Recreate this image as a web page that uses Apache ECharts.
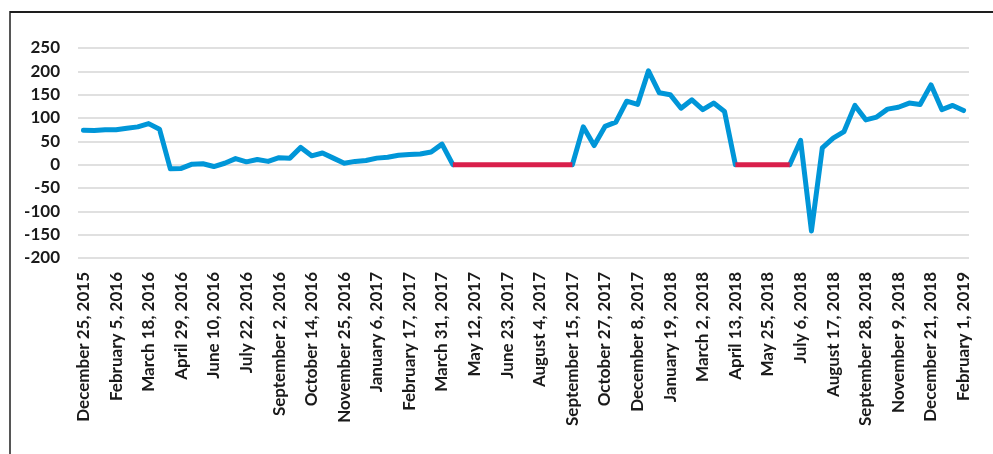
<!DOCTYPE html>
<html>
<head>
<meta charset="utf-8">
<script src="https://cdn.jsdelivr.net/npm/echarts@6/dist/echarts.min.js"></script>
<style>
  html, body { margin: 0; padding: 0; background: #ffffff; }
  #chart { width: 993px; height: 454px; }
</style>
</head>
<body>
<div id="chart"></div>
<script>
// Biweekly observation dates
const categories = [
  "December 25, 2015", "January 8, 2016", "January 22, 2016", "February 5, 2016",
  "February 19, 2016", "March 4, 2016", "March 18, 2016", "April 1, 2016",
  "April 15, 2016", "April 29, 2016", "May 13, 2016", "May 27, 2016",
  "June 10, 2016", "June 24, 2016", "July 8, 2016", "July 22, 2016",
  "August 5, 2016", "August 19, 2016", "September 2, 2016", "September 16, 2016",
  "September 30, 2016", "October 14, 2016", "October 28, 2016", "November 11, 2016",
  "November 25, 2016", "December 9, 2016", "December 23, 2016", "January 6, 2017",
  "January 20, 2017", "February 3, 2017", "February 17, 2017", "March 3, 2017",
  "March 17, 2017", "March 31, 2017", "April 14, 2017", "April 28, 2017",
  "May 12, 2017", "May 26, 2017", "June 9, 2017", "June 23, 2017",
  "July 7, 2017", "July 21, 2017", "August 4, 2017", "August 18, 2017",
  "September 1, 2017", "September 15, 2017", "September 29, 2017", "October 13, 2017",
  "October 27, 2017", "November 10, 2017", "November 24, 2017", "December 8, 2017",
  "December 22, 2017", "January 5, 2018", "January 19, 2018", "February 2, 2018",
  "February 16, 2018", "March 2, 2018", "March 16, 2018", "March 30, 2018",
  "April 13, 2018", "April 27, 2018", "May 11, 2018", "May 25, 2018",
  "June 8, 2018", "June 22, 2018", "July 6, 2018", "July 20, 2018",
  "August 3, 2018", "August 17, 2018", "August 31, 2018", "September 14, 2018",
  "September 28, 2018", "October 12, 2018", "October 26, 2018", "November 9, 2018",
  "November 23, 2018", "December 7, 2018", "December 21, 2018", "January 4, 2019",
  "January 18, 2019", "February 1, 2019"
];

// Reported values (null where no report was available)
const reported = [
  74, 73, 75, 75, 78, 81, 88, 76,
  -9, -8, 1, 2, -4, 3, 13, 6,
  11, 7, 15, 14, 37, 19, 25, 14,
  3, 7, 9, 14, 16, 20, 22, 23,
  27, 44, 0, null, null, null, null, null,
  null, null, null, null, null, 0, 81, 41,
  82, 91, 136, 129, 201, 154, 150, 121,
  139, 118, 132, 114, 0, null, null, null,
  null, 0, 52, -142, 36, 57, 71, 127,
  96, 102, 119, 123, 132, 129, 171, 118,
  127, 116
];

// Gap periods, held at zero
const gaps = [
  null, null, null, null, null, null, null, null,
  null, null, null, null, null, null, null, null,
  null, null, null, null, null, null, null, null,
  null, null, null, null, null, null, null, null,
  null, null, 0, 0, 0, 0, 0, 0,
  0, 0, 0, 0, 0, 0, null, null,
  null, null, null, null, null, null, null, null,
  null, null, null, null, 0, 0, 0, 0,
  0, 0, null, null, null, null, null, null,
  null, null, null, null, null, null, null, null,
  null, null
];

// Value axis ticks
const yMin = -200;
const yMax = 250;
const yStep = 50;

const chart = echarts.init(document.getElementById('chart'), null, { renderer: 'canvas' });

const labelFont = 'Lato, "Open Sans", sans-serif';

chart.setOption({
  animation: false,
  backgroundColor: '#ffffff',
  grid: { left: 78, right: 24, top: 48, bottom: 196, containLabel: false },
  xAxis: {
    type: 'category',
    data: categories,
    boundaryGap: true,
    axisLine: { show: false },
    axisTick: { show: false },
    splitLine: { show: false },
    axisLabel: {
      interval: 2,
      rotate: 90,
      margin: 14,
      color: '#1a1a1a',
      fontFamily: labelFont,
      fontWeight: 'bold',
      fontSize: 17
    }
  },
  yAxis: {
    type: 'value',
    min: yMin,
    max: yMax,
    interval: yStep,
    axisLine: { show: false },
    axisTick: { show: false },
    axisLabel: {
      margin: 18,
      color: '#1a1a1a',
      fontFamily: labelFont,
      fontWeight: 'bold',
      fontSize: 17
    },
    splitLine: { lineStyle: { color: '#d6d6d6', width: 1.5 } }
  },
  series: [
    {
      name: 'Reported',
      type: 'line',
      data: reported,
      connectNulls: false,
      showSymbol: false,
      symbol: 'none',
      lineStyle: { color: '#0096d8', width: 5, join: 'round', cap: 'round' },
      z: 2
    },
    {
      name: 'Gap',
      type: 'line',
      data: gaps,
      connectNulls: false,
      showSymbol: false,
      symbol: 'none',
      lineStyle: { color: '#d91f4b', width: 5, cap: 'butt' },
      z: 3
    }
  ],
  graphic: [
    { type: 'line', shape: { x1: 10, y1: 12, x2: 993, y2: 12 }, style: { stroke: '#1e1e1e', lineWidth: 2 } },
    { type: 'line', shape: { x1: 10, y1: 11, x2: 10, y2: 454 }, style: { stroke: '#1e1e1e', lineWidth: 1.5 } }
  ]
});
</script>
</body>
</html>
